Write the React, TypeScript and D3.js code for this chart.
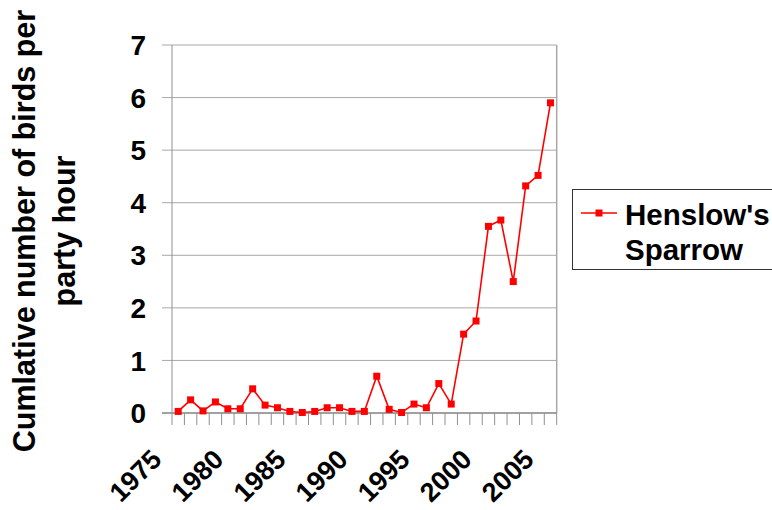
import React from "react";
import * as d3 from "d3";

const years: string[] = [
  "1975", "1976", "1977", "1978", "1979", "1980", "1981", "1982", "1983", "1984",
  "1985", "1986", "1987", "1988", "1989", "1990", "1991", "1992", "1993", "1994",
  "1995", "1996", "1997", "1998", "1999", "2000", "2001", "2002", "2003", "2004",
  "2005",
];
const sparrow: number[] = [
  0.03, 0.25, 0.04, 0.21, 0.08, 0.08, 0.46, 0.15, 0.10, 0.03,
  0.01, 0.03, 0.10, 0.10, 0.03, 0.03, 0.70, 0.07, 0.01, 0.17,
  0.10, 0.56, 0.17, 1.50, 1.75, 3.55, 3.67, 2.50, 4.32, 4.52,
  5.90,
];
const yTicks: number[] = [0, 1, 2, 3, 4, 5, 6, 7];
const xLabels: string[] = ["1975", "1980", "1985", "1990", "1995", "2000", "2005"];
const seriesName: string[] = ["Henslow's", "Sparrow"];
const titleLines: string[] = ["Cumlative number of birds per", "party hour"];

const W = 772;
const H = 510;
const left = 172;
const right = 556.7;
const top = 45;
const bottom = 413;
const FONT = "'Liberation Sans', Arial, sans-serif";
const RED = "#ff0000";
const GRID = "#a8a8a8";

export default function App() {
  const x = d3.scaleBand<string>().domain(years).range([left, right]).padding(0);
  const y = d3.scaleLinear().domain([0, 7]).range([bottom, top]);
  const bw = x.bandwidth();
  const cx = (yr: string) => (x(yr) as number) + bw / 2;

  const line = d3
    .line<number>()
    .x((_, i) => cx(years[i]))
    .y((d) => y(d));

  const boundaries = years.map((yr) => x(yr) as number).concat([right]);

  return (
    <svg
      width={W}
      height={H}
      style={{ position: "absolute", left: 0, top: 0, background: "#fff" }}
      fontFamily={FONT}
    >
      <rect x={0} y={0} width={W} height={H} fill="#fff" />
      {/* gridlines */}
      {yTicks.map((t) => (
        <line key={"g" + t} x1={left - 10} x2={right} y1={y(t)} y2={y(t)} stroke={GRID} strokeWidth={1} />
      ))}
      {/* right border */}
      <line x1={right} x2={right} y1={top} y2={bottom} stroke={GRID} strokeWidth={1.5} />
      {/* y axis */}
      <line x1={left} x2={left} y1={top} y2={bottom} stroke="#909090" strokeWidth={1} />
      {/* x axis */}
      <line x1={left - 10} x2={right} y1={bottom} y2={bottom} stroke="#909090" strokeWidth={1.5} />
      {boundaries.map((bx, i) => (
        <line key={"xt" + i} x1={bx} x2={bx} y1={bottom} y2={bottom + 12} stroke="#909090" strokeWidth={1} />
      ))}
      {/* y tick labels */}
      {yTicks.map((t) => (
        <text
          key={"yl" + t}
          x={146}
          y={y(t)}
          dy="0.36em"
          textAnchor="end"
          fontSize={28}
          fontWeight="bold"
          fill="#000"
        >
          {t}
        </text>
      ))}
      {/* x tick labels */}
      {xLabels.map((lab) => {
        const ax = cx(lab) - 15;
        const ay = 461;
        return (
          <text
            key={"xl" + lab}
            x={ax}
            y={ay}
            textAnchor="end"
            fontSize={27}
            fontWeight="bold"
            fill="#000"
            transform={`rotate(-45, ${ax}, ${ay})`}
          >
            {lab}
          </text>
        );
      })}
      {/* y title */}
      <g transform="translate(0,231)">
        <text x={0} y={0} transform="rotate(-90)" textAnchor="middle" fontSize={30.5} fontWeight="bold" fill="#000">
          <tspan x={0} y={35}>{titleLines[0]}</tspan>
          <tspan x={0} y={75}>{titleLines[1]}</tspan>
        </text>
      </g>
      {/* series */}
      <path d={line(sparrow) || ""} fill="none" stroke={RED} strokeWidth={1.6} />
      {sparrow.map((v, i) => (
        <rect key={"m" + i} x={cx(years[i]) - 3.5} y={y(v) - 3.5} width={7} height={7} fill={RED} />
      ))}
      {/* legend */}
      <rect x={572.5} y={189.5} width={220} height={80} fill="#fff" stroke="#333" strokeWidth={1} />
      <line x1={581} x2={617} y1={213} y2={213} stroke={RED} strokeWidth={1.6} />
      <rect x={599 - 3.5} y={213 - 3.5} width={7} height={7} fill={RED} />
      <text x={625} y={225} fontSize={29.5} fontWeight="bold" fill="#000">{seriesName[0]}</text>
      <text x={625} y={260} fontSize={29.5} fontWeight="bold" fill="#000">{seriesName[1]}</text>
    </svg>
  );
}
